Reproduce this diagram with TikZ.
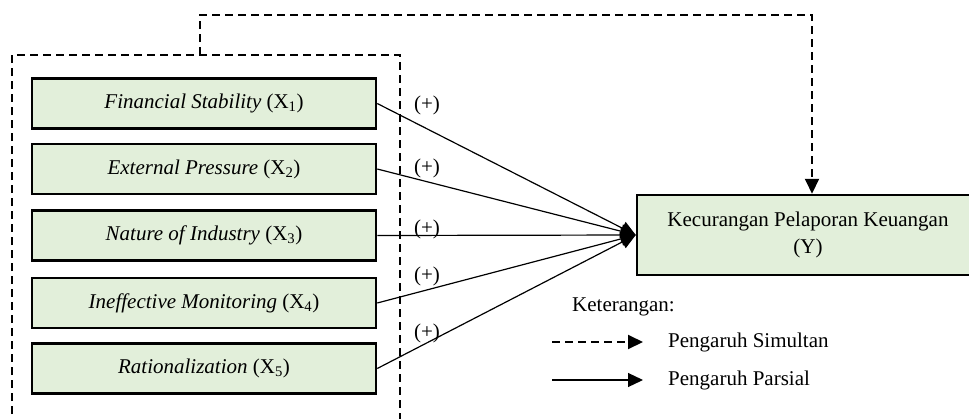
\documentclass[tikz,border=0pt]{standalone}
\usepackage{fontspec}
\setmainfont{Liberation Serif}
\usetikzlibrary{arrows.meta}
\definecolor{boxgreen}{RGB}{226,239,218}
\tikzset{
    varbox/.style={draw=black, line width=2.5pt, fill=boxgreen, minimum width=344pt, minimum height=50pt, inner sep=0pt},
    parsial/.style={line width=1.2pt, -{Triangle[length=15pt,width=14pt]}},
    simultan/.style={line width=2pt, dash pattern=on 8pt off 5pt},
    signlabel/.style={inner sep=0pt}
}

\begin{document}
\begin{tikzpicture}[x=1pt, y=-1pt, font=\fontsize{21}{27}\selectfont]
        \useasboundingbox (0,0) rectangle (969,418);
        \fill[white] (0,0) rectangle (969,418);
        \clip (0,0) rectangle (969,418);

        \node[varbox] (X1) at (204,103.5) {\textit{Financial Stability} (X\textsubscript{1})};
        \node[varbox] (X2) at (204,169) {\textit{External Pressure} (X\textsubscript{2})};
        \node[varbox] (X3) at (204,235.5) {\textit{Nature of Industry} (X\textsubscript{3})};
        \node[varbox] (X4) at (204,303) {\textit{Ineffective Monitoring} (X\textsubscript{4})};
        \node[varbox] (X5) at (204,368.5) {\textit{Rationalization} (X\textsubscript{5})};

        \node[varbox, minimum width=342pt, minimum height=80pt, align=center] (Y) at (808,235) {Kecurangan Pelaporan Keuangan\\(Y)};

        \coordinate (grp) at (200,55);
        \coordinate (top) at (812,15);
        \draw[simultan] (12,440) -- (12,55) -- (400,55) -- (400,440);
        \draw[simultan, -{Triangle[length=15pt,width=14pt]}] (grp) |- (top) -- (top |- Y.north);

        \foreach \i in {1,...,5}
            \draw[parsial] (X\i.east) -- (Y.west);

        \node[signlabel] (s1) at (427,105) {(+)};
        \node[signlabel] (s2) at (427,168) {(+)};
        \node[signlabel] (s3) at (427,229) {(+)};
        \node[signlabel] (s4) at (427,276) {(+)};
        \node[signlabel] (s5) at (427,333) {(+)};

        \node[anchor=west, inner sep=0pt] (ket) at (572,307) {Keterangan:};
        \coordinate (l1a) at (552,342);
        \coordinate (l1b) at (643,342);
        \coordinate (l2a) at (552,380);
        \coordinate (l2b) at (643,380);
        \draw[simultan, -{Triangle[length=15pt,width=14pt]}] (l1a) -- (l1b);
        \draw[parsial] (l2a) -- (l2b);
        \node[anchor=west, inner sep=0pt] (sim) at (668,342) {Pengaruh Simultan};
        \node[anchor=west, inner sep=0pt] (par) at (668,380) {Pengaruh Parsial};
    \end{tikzpicture}
\end{document}
